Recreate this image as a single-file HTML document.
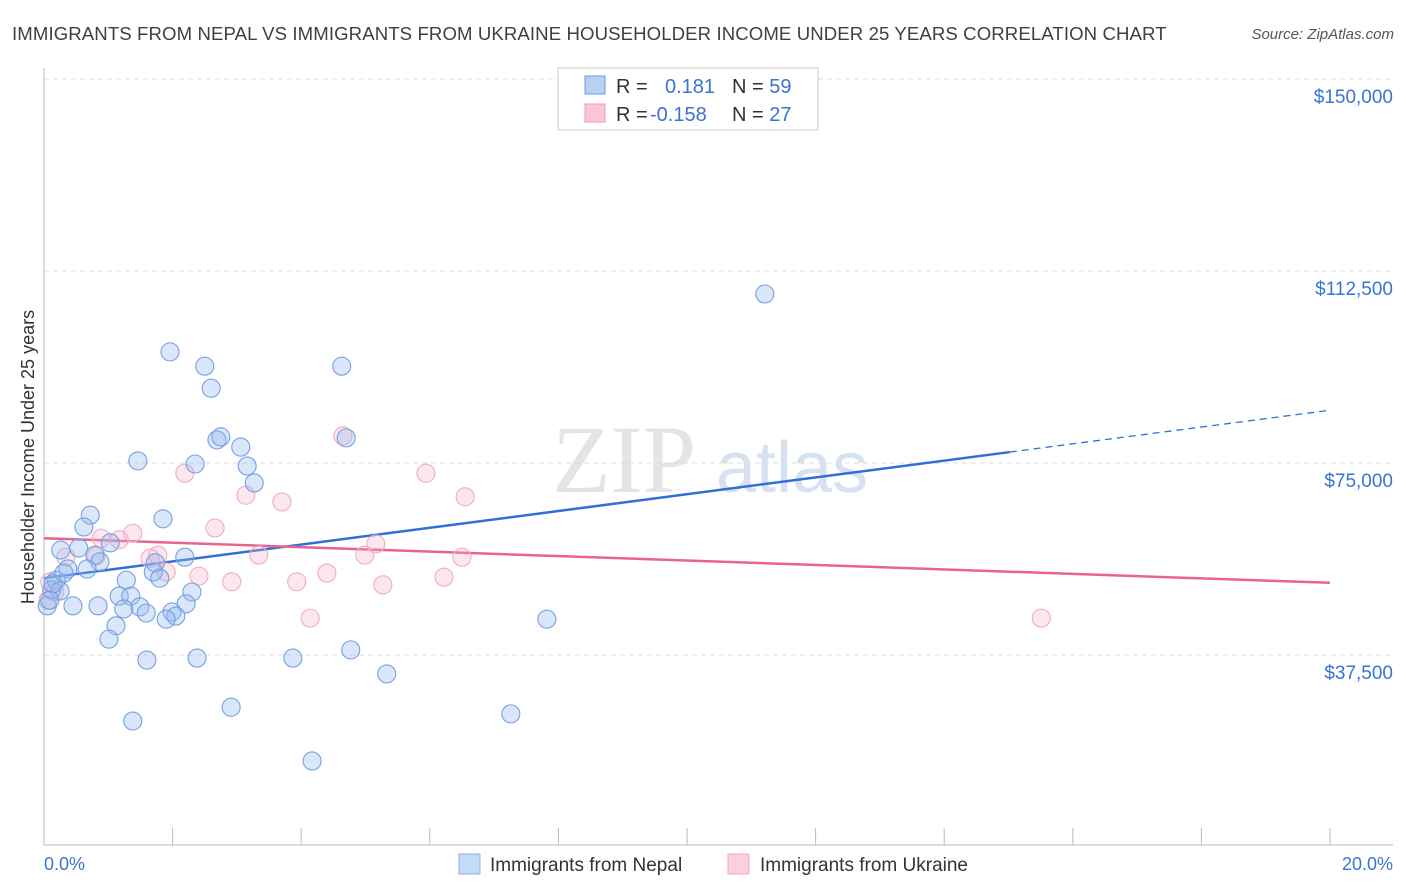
<!DOCTYPE html>
<html><head><meta charset="utf-8"><style>
body{margin:0;background:#fff;font-family:"Liberation Sans",sans-serif}
svg{display:block}
</style></head><body>
<svg id="c" width="1406" height="892" xmlns="http://www.w3.org/2000/svg">
<text x="12" y="40" font-size="18.6" letter-spacing="0.1" fill="#3f3f3f">IMMIGRANTS FROM NEPAL VS IMMIGRANTS FROM UKRAINE HOUSEHOLDER INCOME UNDER 25 YEARS CORRELATION CHART</text>
<text x="1394" y="39" font-size="15" fill="#555" font-style="italic" text-anchor="end">Source: ZipAtlas.com</text>
<text transform="translate(34,457) rotate(-90)" font-size="18" fill="#333" text-anchor="middle">Householder Income Under 25 years</text>
<g><text x="552" y="492" font-size="96" font-family="Liberation Serif,serif" fill="#e4e4e4">ZIP</text><text x="716" y="492" font-size="72" fill="#d6e2f2">atlas</text></g>
<g id="grid"></g><g id="axes"></g><g id="trend"></g><g id="pts"></g>
<g>
<rect x="558" y="68" width="260" height="62" fill="#fff" stroke="#ccc"/>
<rect x="585" y="76" width="20" height="18" fill="#b7d0f4" stroke="#6b9be0"/>
<rect x="585" y="104" width="20" height="18" fill="#f9c6d6" stroke="#ee9ab5"/>
<text x="616" y="93" font-size="20" fill="#333">R = <tspan x="665" fill="#3b73d3">0.181</tspan><tspan x="732" fill="#333">N = </tspan><tspan fill="#3b73d3">59</tspan></text>
<text x="616" y="121" font-size="20" fill="#333">R = <tspan x="650" fill="#3b73d3">-0.158</tspan><tspan x="732" fill="#333">N = </tspan><tspan fill="#3b73d3">27</tspan></text>
</g>
<g>
<rect x="459" y="854" width="21" height="20" fill="#c5daf6" stroke="#8ab0e8"/>
<text x="490" y="871" font-size="19" fill="#333">Immigrants from Nepal</text>
<rect x="728" y="854" width="21" height="20" fill="#fad0de" stroke="#f0a8c0"/>
<text x="760" y="871" font-size="19" fill="#333">Immigrants from Ukraine</text>
</g>
<text x="44" y="870" font-size="18" fill="#3b73d3">0.0%</text>
<text x="1393" y="870" font-size="18" fill="#3b73d3" text-anchor="end">20.0%</text>
</svg>
<script>
const yTicks=[37500,75000,112500,150000];
const yTickLabels=["$37,500","$75,000","$112,500","$150,000"];
const nepalX=[11.21,1.96,2.50,4.63,2.60,2.69,2.75,3.06,4.70,1.46,2.35,3.16,3.27,0.72,1.85,0.62,0.26,0.54,1.03,0.79,0.87,0.37,0.67,2.19,1.73,1.70,1.80,1.28,0.19,0.12,0.25,2.30,1.17,1.35,0.84,0.45,1.49,1.59,1.24,2.21,1.99,2.05,1.90,1.12,1.01,0.05,1.60,2.38,3.87,4.77,5.33,2.91,1.38,7.26,4.17,7.82,0.14,0.31,0.09];
const nepalY=[108.0,96.7,93.9,93.9,89.6,79.5,80.1,78.1,79.9,75.4,74.8,74.4,71.1,64.8,64.1,62.5,58.0,58.4,59.4,57.0,55.7,54.3,54.3,56.6,55.5,53.7,52.5,52.1,52.1,50.2,50.0,49.8,49.0,49.0,47.1,47.1,46.9,45.7,46.5,47.5,45.9,45.1,44.5,43.2,40.6,47.1,36.5,36.9,36.9,38.5,33.8,27.3,24.6,26.0,16.8,44.5,51.4,53.5,48.2];
const ukrX=[4.65,2.19,5.94,3.14,6.55,3.70,2.66,1.38,0.89,1.17,1.77,1.65,0.81,0.34,5.16,4.99,6.50,3.34,1.90,2.41,4.40,2.92,3.93,6.22,5.27,4.14,15.51,0.09,0.17,0.06];
const ukrY=[80.3,73.0,73.0,68.7,68.4,67.4,62.3,61.3,60.3,60.0,57.0,56.4,56.8,56.6,59.2,57.0,56.6,57.0,53.7,52.9,53.5,51.8,51.8,52.7,51.2,44.7,44.7,51.8,49.8,48.2];
const nepalTrend=[52.5,85.3];
const ukrTrend=[60.3,51.6];
const NS="http://www.w3.org/2000/svg";
const X=p=>44+p*64.3, Y=k=>847-k*1000/195.3;
function mk(t,a,parent){const e=document.createElementNS(NS,t);for(const k in a)e.setAttribute(k,a[k]);document.getElementById(parent).appendChild(e);return e;}
yTicks.forEach((v,i)=>{
 const g=mk('line',{x1:44,x2:1393,y1:Y(v/1000),y2:Y(v/1000),stroke:'#ddd','stroke-dasharray':'5,4'},'grid');
 
 
 const t=mk('text',{x:1393,y:Y(v/1000)+24,'font-size':19,fill:'#3b73d3','text-anchor':'end'},'grid');
 t.textContent=yTickLabels[i];
 
 
});
const ax=mk('line',{x1:44,x2:1393,y1:845,y2:845,stroke:'#bbb'},'axes');


const ay=mk('line',{x1:44,x2:44,y1:68,y2:845,stroke:'#bbb'},'axes');


for(let i=1;i<=10;i++){const t=mk('line',{x1:X(i*2),x2:X(i*2),y1:828,y2:845,stroke:'#bbb'},'axes');
 
 }
const xe=15.02,be=nepalTrend[0]+(nepalTrend[1]-nepalTrend[0])*xe/20;
let l=mk('line',{x1:X(0),y1:Y(nepalTrend[0]),x2:X(xe),y2:Y(be),stroke:'#2f6fd6','stroke-width':2.5},'trend');


l=mk('line',{x1:X(xe),y1:Y(be),x2:X(20),y2:Y(nepalTrend[1]),stroke:'#2f6fd6','stroke-width':1.3,'stroke-dasharray':'7,5'},'trend');


l=mk('line',{x1:X(0),y1:Y(ukrTrend[0]),x2:X(20),y2:Y(ukrTrend[1]),stroke:'#e8648e','stroke-width':2.5},'trend');


ukrX.forEach((x,i)=>{const c=mk('circle',{cx:X(x),cy:Y(ukrY[i]),r:9,fill:'rgba(246,175,198,0.3)',stroke:'#f2aac2','stroke-width':1.1},'pts');
 
 });
nepalX.forEach((x,i)=>{const c=mk('circle',{cx:X(x),cy:Y(nepalY[i]),r:9,fill:'rgba(150,185,240,0.35)',stroke:'#74a0e2','stroke-width':1.1},'pts');
 
 });
</script>
</body></html>
